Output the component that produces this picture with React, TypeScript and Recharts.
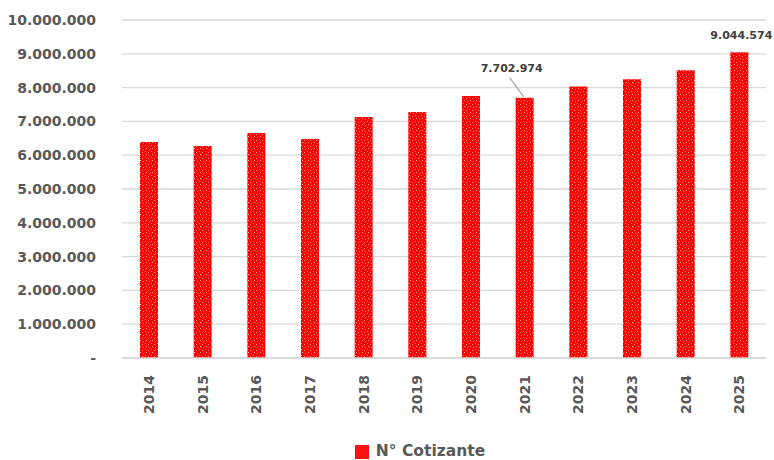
import { BarChart, Bar, XAxis, YAxis, CartesianGrid, Legend, LabelList } from 'recharts';

const YEARS = ['2014', '2015', '2016', '2017', '2018', '2019', '2020', '2021', '2022', '2023', '2024', '2025'];
const COTIZANTES = [6390000, 6270000, 6660000, 6480000, 7130000, 7280000, 7750000, 7702974, 8030000, 8250000, 8510000, 9044574];
const Y_TICKS = [0, 1000000, 2000000, 3000000, 4000000, 5000000, 6000000, 7000000, 8000000, 9000000, 10000000];
const LABELLED = ['2021', '2025'];

const data = YEARS.map((year, i) => ({ year, value: COTIZANTES[i] }));

const FONT = '"DejaVu Sans", sans-serif';
const TEXT = '#595959';

const fmt = (v: number) => (v === 0 ? '-' : v.toLocaleString('de-DE'));

const YearTick = ({ x, y, payload }: { x?: number; y?: number; payload?: { value: string } }) => (
  <g transform={`translate(${x},${(y ?? 0) + 9}) rotate(-90)`}>
    <text x={0} y={0} dy="0.36em" textAnchor="end" fill={TEXT} fontSize={14} fontWeight="bold" fontFamily={FONT}>
      {payload?.value}
    </text>
  </g>
);

const ValueLabel = (props: any) => {
  const { x, y, width, index } = props;
  const year = YEARS[index];
  if (!LABELLED.includes(year)) return null;
  const cx = x + width / 2;
  const label = COTIZANTES[index].toLocaleString('de-DE');
  if (year === '2021') {
    return (
      <g>
        <line x1={cx - 15} y1={y - 20} x2={cx - 1} y2={y - 1} stroke="#a6a6a6" strokeWidth={1.2} />
        <text x={cx - 13} y={y - 26} textAnchor="middle" fill="#404040" fontSize={11} fontWeight="bold" fontFamily={FONT}>
          {label}
        </text>
      </g>
    );
  }
  return (
    <text x={cx + 2} y={y - 13} textAnchor="middle" fill="#404040" fontSize={11} fontWeight="bold" fontFamily={FONT}>
      {label}
    </text>
  );
};

export default function App() {
  return (
    <div style={{ position: 'fixed', left: 0, top: 0, background: '#fff', width: 774, height: 460 }}>
      <svg width={0} height={0} style={{ position: 'absolute' }}>
        <defs>
          <pattern id="redDots" width={6} height={6} patternUnits="userSpaceOnUse">
            <rect width={6} height={6} fill="#ff0000" />
            <rect x={1} y={1} width={1} height={1} fill="#ff9a9a" />
            <rect x={4} y={2} width={1} height={1} fill="#ff9a9a" />
            <rect x={2} y={4} width={1} height={1} fill="#ffb0b0" />
            <rect x={5} y={5} width={1} height={1} fill="#ff9a9a" />
          </pattern>
        </defs>
      </svg>
      <BarChart width={774} height={460} data={data} margin={{ top: 20, right: 8, left: 0, bottom: 0 }}>
        <CartesianGrid vertical={false} stroke="#d9d9d9" strokeWidth={1.3} />
        <XAxis
          dataKey="year"
          height={84}
          tick={<YearTick />}
          tickLine={false}
          axisLine={{ stroke: '#d9d9d9', strokeWidth: 1.3 }}
          interval={0}
        />
        <YAxis
          width={122}
          domain={[0, 10000000]}
          ticks={Y_TICKS}
          tickFormatter={fmt}
          axisLine={false}
          tickLine={false}
          tickMargin={20}
          tick={{ fill: TEXT, fontSize: 14, fontWeight: 'bold', fontFamily: FONT }}
          interval={0}
        />
        <Legend
          height={18}
          iconType="square"
          iconSize={14}
          wrapperStyle={{ left: 80, width: 690, lineHeight: '18px' }}
          formatter={(v: string) => (
            <span style={{ color: TEXT, fontSize: 15.5, fontWeight: 'bold', fontFamily: FONT, marginLeft: 3 }}>{v}</span>
          )}
        />
        <Bar dataKey="value" name="N° Cotizante" fill="url(#redDots)" barSize={18} isAnimationActive={false}>
          <LabelList dataKey="value" content={<ValueLabel />} />
        </Bar>
      </BarChart>
    </div>
  );
}
